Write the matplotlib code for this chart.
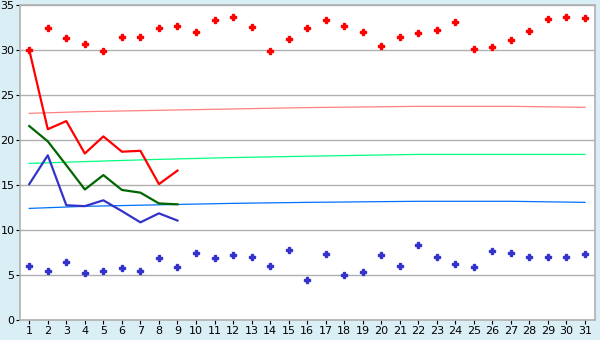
import matplotlib.pyplot as plt

days = list(range(1, 32))
line_days = list(range(1, 10))

red_line = [30.0, 21.2, 22.1, 18.5, 20.4, 18.7, 18.8, 15.1, 16.6]
green_line = [21.55, 19.85, 17.2, 14.5, 16.1, 14.45, 14.15, 12.95, 12.85]
blue_line = [15.1, 18.3, 12.75, 12.65, 13.3, 12.1, 10.85, 11.85, 11.05]

red_points = [30.0, 32.4, 31.3, 30.7, 29.85, 31.5, 31.4, 32.5, 32.7, 31.95,
              33.3, 33.7, 32.6, 29.85, 31.2, 32.4, 33.3, 32.7, 31.95, 30.5,
              31.4, 31.85, 32.2, 33.1, 30.1, 30.3, 31.1, 32.1, 33.5, 33.7, 33.6]
blue_points = [6.05, 5.4, 6.4, 5.2, 5.4, 5.75, 5.4, 6.85, 5.85, 7.4,
               6.85, 7.2, 7.05, 5.95, 7.75, 4.4, 7.3, 4.95, 5.3, 7.2,
               5.95, 8.3, 6.95, 6.2, 5.85, 7.65, 7.5, 6.95, 6.95, 6.95, 7.3]

# thin trend lines, read at a few days
trend_days = [1, 4, 8, 12, 16, 22, 27, 31]
pink_trend = [22.96, 23.15, 23.3, 23.45, 23.6, 23.74, 23.74, 23.63]
green_trend = [17.4, 17.6, 17.85, 18.05, 18.2, 18.4, 18.4, 18.4]
blue_trend = [12.4, 12.63, 12.8, 12.96, 13.07, 13.19, 13.19, 13.07]

fig = plt.figure(figsize=(6, 3.4), dpi=100, facecolor='#daeef5')
ax = fig.add_axes([20 / 600, 20 / 340, 575 / 600, 315 / 340])
ax.set_facecolor('white')

ax.plot(trend_days, pink_trend, color='#ff8080', lw=0.9)
ax.plot(trend_days, green_trend, color='#00ff80', lw=0.9)
ax.plot(trend_days, blue_trend, color='#0070ff', lw=0.9)

ax.plot(line_days, red_line, color='#ff0000', lw=1.6)
ax.plot(line_days, green_line, color='#006600', lw=1.6)
ax.plot(line_days, blue_line, color='#3333cc', lw=1.6)

ax.plot(days, red_points, ls='none', marker='P', ms=4.2, color='#ff0000')
ax.plot(days, blue_points, ls='none', marker='P', ms=4.2, color='#3333cc')

ax.set_xlim(0.5, 31.54)
ax.set_ylim(0, 35)
ax.set_xticks(days)
ax.set_yticks(range(0, 36, 5))
ax.grid(axis='y', color='#b0b0b0', lw=1)
ax.set_axisbelow(True)
for s in ax.spines.values():
    s.set_color('#b0b0b0')
    s.set_linewidth(1.2)
ax.tick_params(labelsize=8, length=3, color='black', pad=1)

fig.savefig('out.png', dpi=100, facecolor=fig.get_facecolor())
